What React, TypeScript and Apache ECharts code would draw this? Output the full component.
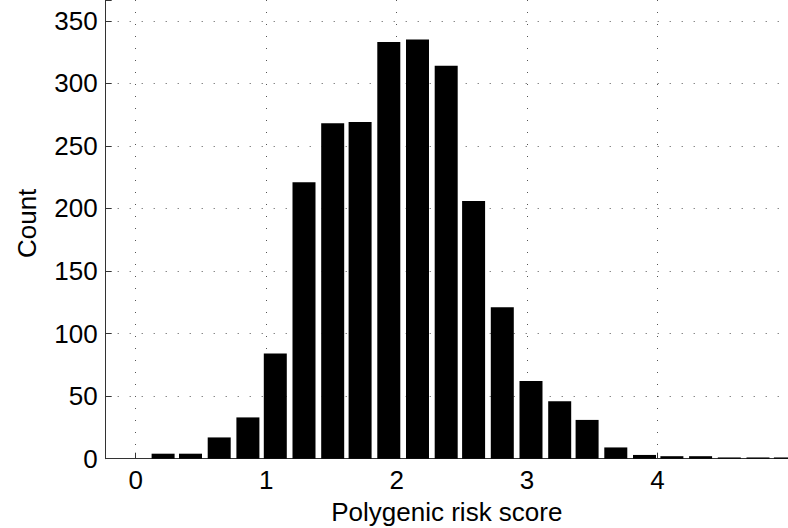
import React, { useEffect, useRef } from "react";
import * as echarts from "echarts";

// Histogram bin centres (Polygenic risk score)
const binCenters = [
  0.21, 0.42, 0.64, 0.86, 1.07, 1.29, 1.51, 1.72, 1.94, 2.16, 2.38, 2.59,
  2.81, 3.03, 3.25, 3.46, 3.68, 3.9, 4.11, 4.33, 4.55, 4.77, 4.98,
];
// Counts per bin
const counts = [
  4, 4, 17, 33, 84, 221, 268, 269, 333, 335, 314, 206,
  121, 62, 46, 31, 9, 3, 2, 2, 1, 1, 1,
];
const xTickLabels = [0, 1, 2, 3, 4];
const yTickLabels = [0, 50, 100, 150, 200, 250, 300, 350];

const FONT = "'Liberation Sans', Arial, Helvetica, sans-serif";
const FS = 26;

export default function App() {
  const ref = useRef<HTMLDivElement>(null);
  useEffect(() => {
    if (!ref.current) return;
    const chart = echarts.init(ref.current, null, { renderer: "svg" });
    const dotted = { color: "#555", width: 1, type: [1, 11] as any };
    chart.setOption({
      animation: false,
      backgroundColor: "#ffffff",
      grid: {
        left: 105.7,
        right: 0,
        top: 0,
        bottom: 69.3,
        containLabel: false,
        outerBoundsMode: "none",
      },
      xAxis: {
        type: "value",
        min: -0.23,
        max: 5.0,
        name: "Polygenic risk score",
        nameLocation: "middle",
        nameGap: 40,
        nameTextStyle: { fontFamily: FONT, fontSize: FS, color: "#000", lineHeight: 26 },
        axisLine: { show: true, onZero: false, lineStyle: { color: "#333", width: 1 } },
        axisTick: { show: true, inside: true, length: 6, lineStyle: { color: "#333" } },
        axisLabel: {
          fontFamily: FONT,
          fontSize: FS,
          color: "#000",
          margin: 8,
          formatter: (v: number) => (xTickLabels.includes(v) ? String(v) : ""),
        },
        splitLine: { show: true, showMinLine: false, showMaxLine: false, lineStyle: dotted },
      },
      yAxis: {
        type: "value",
        min: 0,
        max: 366.6,
        interval: 50,
        name: "Count",
        nameLocation: "middle",
        nameGap: 66,
        nameTextStyle: {
          fontFamily: FONT,
          fontSize: FS,
          color: "#000",
          padding: [0, 0, 0, 12],
        },
        axisLine: { show: true, onZero: false, lineStyle: { color: "#333", width: 1 } },
        axisTick: { show: true, inside: true, length: 6, lineStyle: { color: "#333" } },
        axisLabel: {
          fontFamily: FONT,
          fontSize: FS,
          color: "#000",
          margin: 8,
          formatter: (v: number) => (yTickLabels.includes(v) ? String(v) : ""),
        },
        splitLine: { show: true, showMinLine: false, showMaxLine: false, lineStyle: dotted },
      },
      series: [
        {
          type: "bar",
          data: binCenters.map((x, i) => [x, counts[i]]),
          barWidth: 23,
          itemStyle: { color: "#000" },
          clip: true,
        },
      ],
    });
    return () => chart.dispose();
  }, []);
  return (
    <div
      ref={ref}
      style={{ position: "fixed", left: 0, top: 0, width: 788, height: 528 }}
    />
  );
}
